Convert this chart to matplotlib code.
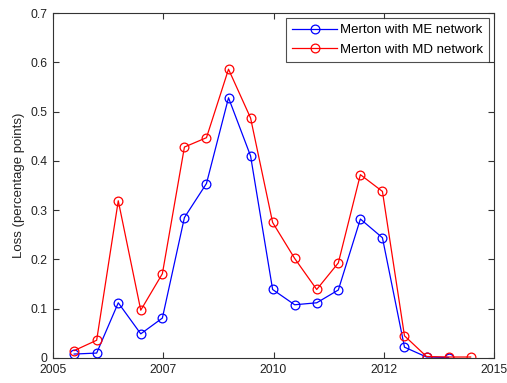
import matplotlib
matplotlib.use("Agg")
import matplotlib.pyplot as plt

plt.rcParams['font.family'] = ['Liberation Sans', 'DejaVu Sans']

# Half-year observation dates (fractional years)
dates_md = [2005.48, 2005.99, 2006.48, 2006.99, 2007.48, 2007.98, 2008.48,
            2008.98, 2009.48, 2009.98, 2010.48, 2010.98, 2011.47, 2011.97,
            2012.47, 2012.97, 2013.47, 2013.97, 2014.47]
dates_me = dates_md[:18]

# Losses in percentage points
loss_me = [0.008, 0.010, 0.112, 0.049, 0.081, 0.285, 0.354, 0.528, 0.410,
           0.139, 0.108, 0.112, 0.138, 0.282, 0.244, 0.022, 0.002, 0.001]
loss_md = [0.015, 0.036, 0.319, 0.097, 0.171, 0.428, 0.447, 0.586, 0.487,
           0.275, 0.202, 0.139, 0.193, 0.372, 0.338, 0.045, 0.003, 0.002,
           0.002]

xticks = [2005.0, 2007.5, 2010.0, 2012.5, 2015.0]
xticklabels = ['2005', '2007', '2010', '2012', '2015']
yticks = [0, 0.1, 0.2, 0.3, 0.4, 0.5, 0.6, 0.7]
yticklabels = ['0', '0.1', '0.2', '0.3', '0.4', '0.5', '0.6', '0.7']

fig = plt.figure(figsize=(5.07, 3.83), dpi=100)
ax = fig.add_axes([53 / 507, 25 / 383, 441 / 507, 345 / 383])

ax.plot(dates_me, loss_me, color=(0, 0, 1), lw=0.9, marker='o', ms=6.3,
        mfc='none', mec=(0, 0, 1), mew=0.9, label='Merton with ME network')
ax.plot(dates_md, loss_md, color=(1, 0, 0), lw=0.9, marker='o', ms=6.3,
        mfc='none', mec=(1, 0, 0), mew=0.9, label='Merton with MD network')

ax.set_xlim(2005, 2015)
ax.set_ylim(0, 0.7)
ax.set_xticks(xticks)
ax.set_xticklabels(xticklabels)
ax.set_yticks(yticks)
ax.set_yticklabels(yticklabels)
ax.tick_params(direction='in', length=4, width=0.8, labelsize=8.7,
               top=True, right=True, colors='#333333',
               labelcolor='#222222')
ax.tick_params(axis='y', pad=4)
ax.tick_params(axis='x', pad=4)
for s in ax.spines.values():
    s.set_color('#333333')
    s.set_linewidth(0.8)

ax.set_ylabel('Loss (percentage points)', fontsize=9.5, labelpad=4,
              color='#222222')

leg = ax.legend(loc='upper right', fontsize=9.5, frameon=True, fancybox=False,
                borderaxespad=0.4, handlelength=3.4, handletextpad=0.2,
                borderpad=0.45, labelspacing=0.55)
leg.get_frame().set_edgecolor('#222222')
leg.get_frame().set_linewidth(0.8)

fig.savefig('out.png', dpi=100)
